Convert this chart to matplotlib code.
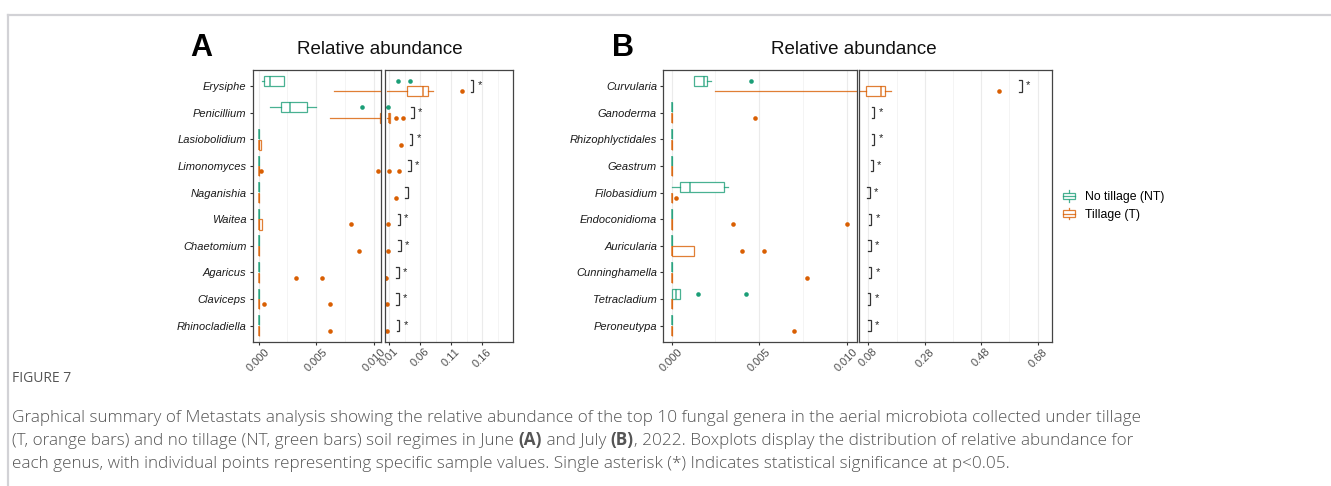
import numpy as np
import matplotlib
matplotlib.use('Agg')
import matplotlib.pyplot as plt
from matplotlib.colors import to_rgba
from matplotlib.lines import Line2D
from matplotlib.patches import Rectangle
from matplotlib.legend_handler import HandlerBase

plt.rcParams['font.family'] = ['Liberation Sans', 'DejaVu Sans']

GREEN = '#1b9e77'
ORANGE = '#d95f02'

# ---------------- panel A (June) ----------------
genera_a = ['Erysiphe', 'Penicillium', 'Lasiobolidium', 'Limonomyces', 'Naganishia',
            'Waitea', 'Chaetomium', 'Agaricus', 'Claviceps', 'Rhinocladiella']

# no tillage (NT)
a_nt_lo = [0.00026, 0.0010, 0, 0, 0, 0, 0, 0, 0, 0]
a_nt_q1 = [0.00048, 0.00198, 0, 0, 0, 0, 0, 0, 0, 0]
a_nt_med = [0.0010, 0.00272, 0, 0, 0, 0, 0, 0, 0, 0]
a_nt_q3 = [0.00224, 0.00422, 0, 0, 0, 0, 0, 0, 0, 0]
a_nt_hi = [0.00224, 0.00497, 0, 0, 0, 0, 0, 0, 0, 0]
a_nt_out = [[0.024, 0.0443], [0.00899], [], [], [], [], [], [], [], []]

# tillage (T)
a_t_lo = [0.0065, 0.0062, 0, 0, 0, 0, 0, 0, 0, 0]
a_t_q1 = [0.0385, 0.0105, 0, 0, 0, 0, 0, 0, 0, 0]
a_t_med = [0.0651, 0.0108, 0, 0, 0, 0, 0, 0, 0, 0]
a_t_q3 = [0.0732, 0.0112, 0.00023, 0, 0, 0.00026, 0, 0, 0, 0]
a_t_hi = [0.0812, 0.0115, 0.00023, 0, 0, 0.00026, 0, 0, 0, 0]
a_t_out = [[0.127], [0.0208, 0.0321], [0.0293], [0.00023, 0.0104, 0.0256], [0.0217],
           [0.00798], [0.00873], [0.00324, 0.00548], [0.00048, 0.00623], [0.00623]]

a_sig_x = [0.1456, 0.0502, 0.0475, 0.0449, 0.0405, 0.0277, 0.0288, 0.0256, 0.0256, 0.0266]
a_sig_star = [True, True, True, True, False, True, True, True, True, True]

# ---------------- panel B (July) ----------------
genera_b = ['Curvularia', 'Ganoderma', 'Rhizophlyctidales', 'Geastrum', 'Filobasidium',
            'Endoconidioma', 'Auricularia', 'Cunninghamella', 'Tetracladium', 'Peroneutypa']

b_nt_lo = [0.00126, 0, 0, 0, 0.0, 0, 0, 0, 0, 0]
b_nt_q1 = [0.00126, 0, 0, 0, 0.00049, 0, 0, 0, 0, 0]
b_nt_med = [0.00183, 0, 0, 0, 0.00103, 0, 0, 0, 0.00025, 0]
b_nt_q3 = [0.00200, 0, 0, 0, 0.00301, 0, 0, 0, 0.00049, 0]
b_nt_hi = [0.00223, 0, 0, 0, 0.00322, 0, 0, 0, 0.00049, 0]
b_nt_out = [[0.00451], [], [], [], [], [], [], [], [0.00149, 0.00425], []]

b_t_lo = [0.00249, 0, 0, 0, 0, 0, 0, 0, 0, 0]
b_t_q1 = [0.0708, 0, 0, 0, 0, 0, 0, 0, 0, 0]
b_t_med = [0.125, 0, 0, 0, 0, 0, 0, 0, 0, 0]
b_t_q3 = [0.1402, 0, 0, 0, 0, 0, 0.00126, 0, 0, 0]
b_t_hi = [0.159, 0, 0, 0, 0, 0, 0.00126, 0, 0, 0]
b_t_out = [[0.5427], [0.00474], [], [], [0.00025], [0.0035, 0.0100],
           [0.0040, 0.00526], [0.00775], [], [0.0070]]

b_sig_x = [0.623, 0.101, 0.101, 0.0967, 0.086, 0.0907, 0.0884, 0.0907, 0.087, 0.0884]
b_sig_star = [True] * 10

W, H = 1331, 486


def box_stats(lo, q1, med, q3, hi, out):
    return [dict(whislo=a, q1=b, med=c, q3=d, whishi=e, fliers=f)
            for a, b, c, d, e, f in zip(lo, q1, med, q3, hi, out)]


def px_rect(x0, x1, y0, y1):
    return [x0 / W, (H - y1) / H, (x1 - x0) / W, (y1 - y0) / H]


def draw_panel(ax, genera, nt, t, xlim, ticks, ticklabels, minor, sig_x, sig_star, show_y):
    n = len(genera)
    pos = np.arange(n)
    for st, off, c in [(nt, -0.2, GREEN), (t, 0.2, ORANGE)]:
        lc = to_rgba(c, 0.8)
        ax.bxp(st, positions=pos + off, widths=0.38, orientation='horizontal',
               patch_artist=True, showcaps=False, manage_ticks=False,
               boxprops=dict(facecolor='white', edgecolor=lc, lw=0.9),
               whiskerprops=dict(color=lc, lw=0.9),
               medianprops=dict(color=lc, lw=1.1),
               flierprops=dict(marker='o', markerfacecolor=c, markeredgecolor='none',
                               markersize=3.3))
    ax.set_xlim(*xlim)
    ax.set_ylim(n - 0.4, -0.6)
    ax.set_xticks(ticks)
    ax.set_xticklabels(ticklabels, rotation=45, ha='center', va='top',
                       fontsize=8, color='#4d4d4d')
    ax.set_xticks(minor, minor=True)
    ax.set_axisbelow(True)
    ax.grid(True, axis='x', which='major', color='#ebebeb', lw=0.8)
    ax.grid(True, axis='x', which='minor', color='#f3f3f3', lw=0.6)
    ax.tick_params(axis='x', which='major', length=2.5, width=0.8, color='#333333', pad=1)
    ax.tick_params(axis='x', which='minor', length=0)
    ax.set_yticks(pos)
    if show_y:
        ax.set_yticklabels(genera, fontstyle='italic', fontsize=8, color='#1a1a1a')
        ax.tick_params(axis='y', length=2.5, width=0.8, color='#333333', pad=2)
    else:
        ax.tick_params(axis='y', left=False, labelleft=False)
    for s in ax.spines.values():
        s.set_color('#444444')
        s.set_linewidth(0.9)

    # significance brackets
    bb = ax.get_position()
    tl = 2.5 / (bb.width * W) * (xlim[1] - xlim[0])
    for i, (bx, star) in enumerate(zip(sig_x, sig_star)):
        if bx is None:
            continue
        ax.plot([bx - tl, bx, bx, bx - tl], [i - 0.21, i - 0.21, i + 0.21, i + 0.21],
                color='#333333', lw=0.9, solid_joinstyle='miter')
        if star:
            ax.annotate('*', xy=(bx, i), xytext=(3.0, 0.5), textcoords='offset points',
                        ha='left', va='center', fontsize=8, color='#222222')


fig = plt.figure(figsize=(W / 100, H / 100), dpi=100)

# background canvas in pixel coordinates for frame, titles and caption
cap = fig.add_axes([0, 0, 1, 1], zorder=-1)
cap.set_xlim(0, W)
cap.set_ylim(H, 0)
cap.axis('off')
cap.plot([8, W], [15, 15], color='#d2d2d6', lw=1.6, clip_on=False)
cap.plot([8, 8], [15, H], color='#d2d2d6', lw=1.6, clip_on=False)

ax_al = fig.add_axes(px_rect(252.7, 380.7, 70, 341.7))
ax_ar = fig.add_axes(px_rect(384.7, 512.7, 70, 341.7))
ax_bl = fig.add_axes(px_rect(663.3, 856.7, 70, 341.7))
ax_br = fig.add_axes(px_rect(859.3, 1051.7, 70, 341.7))

a_nt = box_stats(a_nt_lo, a_nt_q1, a_nt_med, a_nt_q3, a_nt_hi, a_nt_out)
a_t = box_stats(a_t_lo, a_t_q1, a_t_med, a_t_q3, a_t_hi, a_t_out)
b_nt = box_stats(b_nt_lo, b_nt_q1, b_nt_med, b_nt_q3, b_nt_hi, b_nt_out)
b_t = box_stats(b_t_lo, b_t_q1, b_t_med, b_t_q3, b_t_hi, b_t_out)

none10 = [None] * 10
draw_panel(ax_al, genera_a, a_nt, a_t, (-0.00052, 0.0106), [0, 0.005, 0.010],
           ['0.000', '0.005', '0.010'], [0.0025, 0.0075], none10, none10, True)
draw_panel(ax_ar, genera_a, a_nt, a_t, (0.0031, 0.2089), [0.01, 0.06, 0.11, 0.16],
           ['0.01', '0.06', '0.11', '0.16'], [0.035, 0.085, 0.135, 0.185],
           a_sig_x, a_sig_star, False)
draw_panel(ax_bl, genera_b, b_nt, b_t, (-0.00048, 0.01057), [0, 0.005, 0.010],
           ['0.000', '0.005', '0.010'], [0.0025, 0.0075], none10, none10, True)
draw_panel(ax_br, genera_b, b_nt, b_t, (0.0481, 0.7296), [0.08, 0.28, 0.48, 0.68],
           ['0.08', '0.28', '0.48', '0.68'], [0.18, 0.38, 0.58],
           b_sig_x, b_sig_star, False)

# titles and panel letters
cap.text(380, 49, 'Relative abundance', ha='center', va='center', fontsize=13.5, color='#111111')
cap.text(854, 49, 'Relative abundance', ha='center', va='center', fontsize=13.5, color='#111111')
cap.text(201, 48, 'A', ha='center', va='center', fontsize=22, fontweight='bold', color='black')
cap.text(623, 48, 'B', ha='center', va='center', fontsize=22, fontweight='bold', color='black')


# legend with boxplot key glyphs
class BoxKey(HandlerBase):
    def create_artists(self, legend, orig_handle, xdescent, ydescent, width, height,
                       fontsize, trans):
        c = orig_handle.get_color()
        lc = to_rgba(c, 0.8)
        x0, y0 = -xdescent, -ydescent
        cx = x0 + width / 2
        arts = [Line2D([cx, cx], [y0, y0 + height * 0.22], color=lc, lw=0.9),
                Line2D([cx, cx], [y0 + height * 0.78, y0 + height], color=lc, lw=0.9),
                Rectangle((x0 + width * 0.08, y0 + height * 0.22), width * 0.84, height * 0.56,
                          facecolor='white', edgecolor=lc, lw=0.9),
                Line2D([x0 + width * 0.08, x0 + width * 0.92], [y0 + height / 2] * 2,
                       color=lc, lw=0.9)]
        for a in arts:
            a.set_transform(trans)
        return arts


handles = [Line2D([], [], color=GREEN), Line2D([], [], color=ORANGE)]
fig.legend(handles, ['No tillage (NT)', 'Tillage (T)'], handler_map={Line2D: BoxKey()},
           loc='center left', bbox_to_anchor=(1062 / W, 1 - 205.5 / H), frameon=False,
           fontsize=8.8, handlelength=1.2, handleheight=1.05, handletextpad=0.65,
           labelspacing=0.4, borderpad=0, borderaxespad=0)

# caption
cfont = dict(family=['Open Sans', 'DejaVu Sans'], color='#555555')
cs = 12.35
cap.text(12, 378, 'FIGURE 7', ha='left', va='center', fontsize=10, color='#555555',
         family=['Open Sans', 'DejaVu Sans'])
line1 = ('Graphical summary of Metastats analysis showing the relative abundance of the top 10 '
         'fungal genera in the aerial microbiota collected under tillage')
line3 = ('each genus, with individual points representing specific sample values. Single asterisk '
         '(*) Indicates statistical significance at p<0.05.')
cap.text(12, 418, line1, ha='left', va='center', fontsize=cs, fontweight='light', **cfont)
cap.text(12, 464, line3, ha='left', va='center', fontsize=cs, fontweight='light', **cfont)

segments = [('(T, orange bars) and no tillage (NT, green bars) soil regimes in June ', 'light'),
            ('(A)', 'bold'), (' and July ', 'light'), ('(B)', 'bold'),
            (', 2022. Boxplots display the distribution of relative abundance for', 'light')]
prev = cap.text(12, 441, segments[0][0], ha='left', va='center', fontsize=cs,
                fontweight='light', **cfont)
for seg, wt in segments[1:]:
    prev = cap.annotate(seg, xy=(1, 0), xycoords=prev, ha='left', va='bottom',
                        fontsize=cs, fontweight=wt, **cfont)

fig.savefig('out.png', dpi=100)
